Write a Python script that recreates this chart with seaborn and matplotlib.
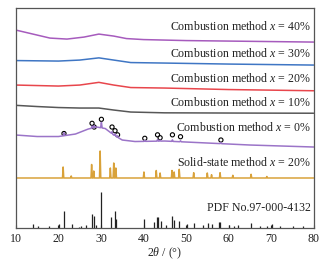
import numpy as np
import pandas as pd
import matplotlib
matplotlib.use('Agg')
import matplotlib.pyplot as plt
import seaborn as sns

# --- data (heights in arbitrary offset units) ---
labels = ["Combustion method $x$ = 40%", "Combustion method $x$ = 30%",
          "Combustion method $x$ = 20%", "Combustion method $x$ = 10%",
          "Combustion method $x$ = 0%", "Solid-state method $x$ = 20%",
          "PDF No.97-000-4132"]
label_y = [202.5, 175.2, 150.2, 125.8, 101.5, 66.2, 20.2]

bg_x_40 = [10, 14, 18, 22, 26, 29.5, 33, 36, 40, 50, 60, 70, 80]
bg_y_40 = [198.5, 194.5, 190.5, 189.5, 191.5, 194.5, 192.5, 190, 189, 188, 187.5, 187, 186.5]

bg_x_30 = [10, 20, 25, 29.5, 33, 37, 45, 60, 80]
bg_y_30 = [168, 167.5, 168.5, 170.7, 168.5, 166, 165.5, 164.5, 163.5]

bg_x_20 = [10, 20, 25, 29.5, 33, 37, 45, 60, 80]
bg_y_20 = [143.5, 142.5, 143.5, 146.2, 143.5, 141, 140.5, 139, 137.8]

bg_x_10 = [10, 15, 20, 25, 29.5, 33, 37, 45, 60, 80]
bg_y_10 = [123.2, 122, 121, 120.5, 120.5, 118.5, 116.5, 115.7, 115.5, 115.3]

bg_x_0 = [10, 15, 20, 24, 27, 29, 31, 33, 35, 38, 45, 55, 65, 80]
bg_y_0 = [93.5, 92, 92, 94.5, 99.5, 101.5, 100, 93.5, 88.5, 87, 87.5, 85.5, 83.5, 81.5]
pk_x_0 = [21.3, 27.9, 28.4, 30.1, 32.6, 33.3, 33.9, 40.3, 43.3, 43.9, 46.8, 48.7, 58.2]
pk_h_0 = [3, 2, 2, 5.5, 2, 2, 1.5, 1, 1.5, 1, 1.5, 1, 1]

circ_x = [21.3, 27.9, 28.4, 30.1, 32.6, 33.3, 33.9, 40.3, 43.3, 43.9, 46.8, 48.7, 58.2]
circ_y = [95, 105.2, 101.5, 109.2, 101.5, 97.8, 93.7, 90.2, 93.7, 90.8, 93.7, 91.8, 88.5]

base_ss = 50.5
pk_x_ss = [21.1, 23.0, 27.8, 28.3, 29.8, 32.2, 33.0, 33.5, 40.1, 43.0, 43.9,
           46.7, 47.2, 48.4, 51.8, 55.0, 56.0, 58.0, 61.0, 65.3, 69.0]
pk_h_ss = [11, 2, 13.5, 7, 27, 10, 15, 10, 6, 7.5, 5,
           7.5, 6, 8.7, 5.3, 5, 3.3, 5.3, 2.7, 3.7, 1.5]

pdf_x = [14.0, 15.2, 17.8, 20.2, 21.3, 23.2, 24.8, 25.2, 26.4, 27.8, 28.3, 28.8,
         30.0, 32.3, 33.2, 33.6, 40.2, 42.4, 43.1, 43.5, 44.1, 45.2, 46.6, 47.2,
         48.4, 50.2, 51.8, 54.1, 55.1, 56.0, 57.7, 58.1, 60.1, 61.2, 62.3, 65.3,
         67.5, 69.0, 70.3, 72.0, 75.1, 77.5]
pdf_h = [4, 2, 2, 4.7, 17, 4.3, 1.5, 2, 3.7, 14.7, 12.3, 3,
         36, 11.7, 17.5, 9, 9.3, 6, 11.7, 11, 7, 3, 12.3, 8.7,
         7.3, 4.3, 5, 3.3, 5, 4, 6, 6.3, 3.7, 2.7, 3, 5.7,
         2, 2, 4.7, 2, 2, 2]

colors = ["#a65bbd", "#3f76c4", "#e8464c", "#575757", "#9b74c8", "#d9a23a", "#222222"]


def trace(bx, by, px=(), ph=(), w=0.18):
    xs = sorted(set(bx) | {p + d for p in px for d in (-w, 0, w)})
    xs = np.array(xs)
    ys = np.interp(xs, bx, by)
    for p, h in zip(px, ph):
        ys[np.isclose(xs, p)] += h
    return xs, ys


sns.set_style("ticks")
plt.rcParams['font.family'] = ['Liberation Serif', 'DejaVu Serif']
plt.rcParams['mathtext.fontset'] = 'custom'
plt.rcParams['mathtext.rm'] = 'Liberation Serif'
plt.rcParams['mathtext.it'] = 'Liberation Serif:italic'

fig = plt.figure(figsize=(3.25, 2.62), dpi=100)
ax = fig.add_axes([0.049, 0.128, 0.916, 0.843])

series = [
    trace(bg_x_40, bg_y_40),
    trace(bg_x_30, bg_y_30),
    trace(bg_x_20, bg_y_20),
    trace(bg_x_10, bg_y_10),
    trace(bg_x_0, bg_y_0, pk_x_0, pk_h_0),
    trace([10, 80], [base_ss, base_ss], pk_x_ss, pk_h_ss, w=0.15),
]
for (xs, ys), c in zip(series, colors):
    sns.lineplot(x=xs, y=ys, ax=ax, color=c, lw=1.1, sort=False, estimator=None)

ax.vlines(pdf_x, 0, pdf_h, color=colors[6], lw=0.9)

sns.scatterplot(x=circ_x, y=circ_y, ax=ax, marker='o', s=9, facecolor='none',
                edgecolor='black', linewidth=0.8)

for lab, y in zip(labels, label_y):
    ax.text(79.4, y, lab, ha='right', va='center', fontsize=8.6, color='#222222')

ax.set_xlim(10, 80)
ax.set_ylim(0, 221)
ax.set_xticks(range(10, 81, 10))
ax.set_yticks([])
ax.tick_params(axis='x', direction='in', length=2, labelsize=8.6, pad=3, colors='#222222')
for s in ax.spines.values():
    s.set_color('#555555')
    s.set_linewidth(0.9)
ax.set_xlabel(r"2$\theta$ / (°)", fontsize=8.6, labelpad=1, color='#222222')

fig.savefig('out.png', dpi=100)
